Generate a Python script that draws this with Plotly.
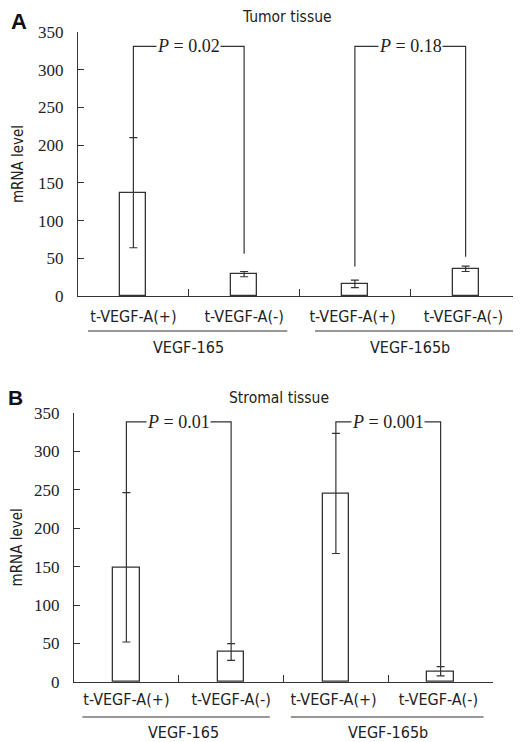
import plotly.graph_objects as go

# ---------------- data ----------------
categories = ["t-VEGF-A(+)", "t-VEGF-A(-)", "t-VEGF-A(+) ", "t-VEGF-A(-) "]
groups = ["VEGF-165", "VEGF-165b"]

tumor_mean = [137, 29, 16, 36]
tumor_err = [73, 3.5, 5, 3.5]
stromal_mean = [149, 39, 245, 14]
stromal_err = [97, 11, 78, 6]

# significance brackets
tumor_pvals = ["0.02", "0.18"]
tumor_bracket_y = [331, 331]
tumor_leg_ends = [(210, 56), (39, 52)]
stromal_pvals = ["0.01", "0.001"]
stromal_bracket_y = [338, 338]
stromal_leg_ends = [(246, 50), (323, 20)]

y_ticks = [0, 50, 100, 150, 200, 250, 300, 350]

LINE = "#333333"
TEXT = "#222222"
SANS = "DejaVu Sans Condensed, DejaVu Sans"
SERIF = "Liberation Serif, DejaVu Serif"

OFF = 8  # page body margin
W, H = 521 - OFF, 742 - OFF
ML, MT, MB, MR = 74 - OFF, 32 - OFF, 742 - 682, 0
PH = H - MT - MB
PW = W - ML - MR


def py(p):
    # page pixel y -> paper fraction
    return (H - MB - (p - OFF)) / PH


def px(p):
    return ((p - OFF) - ML) / PW


fig = go.Figure()

fig.add_trace(go.Bar(
    x=categories, y=tumor_mean, width=0.235,
    error_y=dict(type="data", array=tumor_err, color=LINE, thickness=1.2, width=4),
    marker=dict(color="white", line=dict(color=LINE, width=1.3)),
    xaxis="x", yaxis="y", showlegend=False,
))
fig.add_trace(go.Bar(
    x=categories, y=stromal_mean, width=0.255,
    error_y=dict(type="data", array=stromal_err, color=LINE, thickness=1.2, width=4),
    marker=dict(color="white", line=dict(color=LINE, width=1.3)),
    xaxis="x2", yaxis="y2", showlegend=False,
))

xcommon = dict(
    type="category", showline=True, linecolor=LINE, linewidth=1.3,
    ticks="inside", tickson="boundaries", ticklen=7, tickcolor=LINE, tickwidth=1.2,
    showgrid=False, zeroline=False, range=[-0.5, 3.5], automargin=False,
    tickfont=dict(family=SANS, size=16, color=TEXT),
)
ycommon = dict(
    range=[0, 350], tickvals=y_ticks, showline=True, linecolor=LINE, linewidth=1.3,
    ticks="inside", ticklen=6, tickcolor=LINE, tickwidth=1.2,
    showgrid=False, zeroline=False, automargin=False,
    tickfont=dict(family=SERIF, size=17, color=TEXT),
    ticklabelstandoff=10,
    title=dict(text="mRNA level", font=dict(family=SANS, size=15, color=TEXT), standoff=10),
)

fig.update_layout(
    width=W, height=H,
    margin=dict(l=ML, r=MR, t=MT, b=MB),
    paper_bgcolor="white", plot_bgcolor="white",
    bargap=0,
    xaxis=dict(xcommon, domain=[px(78), 1], anchor="y", ticklabelstandoff=6),
    yaxis=dict(ycommon, domain=[py(296), 1], anchor="x"),
    xaxis2=dict(xcommon, domain=[0, px(493)], anchor="y2", ticklabelstandoff=3),
    yaxis2=dict(ycommon, domain=[0, py(412.7)], anchor="x2"),
)

shapes = []
annotations = []


def add_brackets(xr, yr, bracket_y, leg_ends, pvals, pairs):
    for (i, j), by, (l0, l1), pv in zip(pairs, bracket_y, leg_ends, pvals):
        shapes.append(dict(
            type="path", xref=xr, yref=yr,
            path=f"M {i},{l0} L {i},{by} L {j},{by} L {j},{l1}",
            line=dict(color=LINE, width=1.2),
        ))
        annotations.append(dict(
            x=(i + j) / 2, y=by, xref=xr, yref=yr, showarrow=False,
            xanchor="center", yanchor="middle",
            text=f"<i>P</i> = {pv}", bgcolor="white",
            font=dict(family=SERIF, size=18, color=TEXT), borderpad=0,
        ))


pairs = [(0, 1), (2, 3)]
add_brackets("x", "y", tumor_bracket_y, tumor_leg_ends, tumor_pvals, pairs)
add_brackets("x2", "y2", stromal_bracket_y, stromal_leg_ends, stromal_pvals, pairs)

# group underlines and labels
for xr, line_y, lab_y, spans, centers in [
    ("x", 331, 347, [(-0.41, 1.39), (1.64, 3.6)], [0.5, 2.5]),
    ("x2", 717, 732, [(-0.42, 1.37), (1.57, 3.41)], [0.55, 2.5]),
]:
    for (a, b), c, g in zip(spans, centers, groups):
        shapes.append(dict(type="line", xref=xr, yref="paper", x0=a, x1=b,
                           y0=py(line_y), y1=py(line_y), line=dict(color=LINE, width=1.2)))
        annotations.append(dict(x=c, y=py(lab_y), xref=xr, yref="paper", showarrow=False,
                                xanchor="center", yanchor="middle",
                                text=g, font=dict(family=SANS, size=16, color=TEXT)))

# panel titles and letters
for text, x, y, fam, size, col, ya in [
    ("Tumor tissue", 287, 17, SANS, 15.5, TEXT, "middle"),
    ("Stromal tissue", 279, 398, SANS, 15.5, TEXT, "middle"),
    ("<b>A</b>", 19, 8, "Liberation Sans", 22, "#111", "top"),
    ("<b>B</b>", 15, 398, "Liberation Sans", 21, "#111", "middle"),
]:
    annotations.append(dict(x=px(x), y=py(y), xref="paper", yref="paper", showarrow=False,
                            xanchor="center", yanchor=ya, borderpad=0,
                            text=text, font=dict(family=fam, size=size, color=col)))

fig.update_layout(shapes=shapes, annotations=annotations)
fig.write_html("out.html")
